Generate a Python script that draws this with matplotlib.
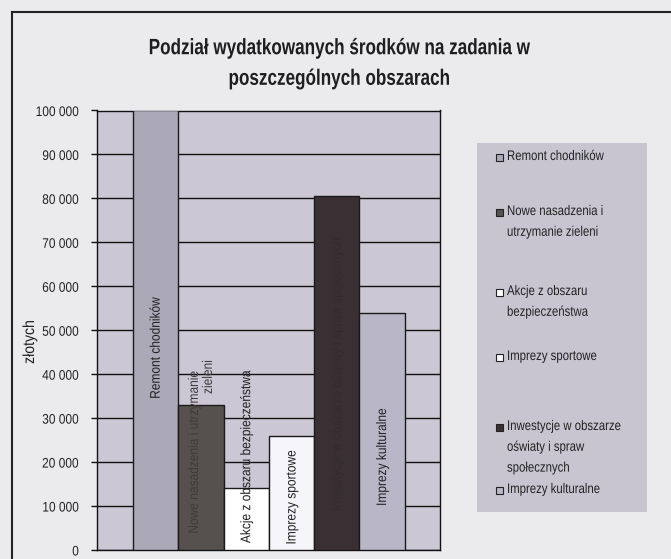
import matplotlib
matplotlib.use("Agg")
import matplotlib.pyplot as plt
from matplotlib.patches import Rectangle
from matplotlib.lines import Line2D
from matplotlib.ticker import FuncFormatter
from matplotlib.patheffects import AbstractPathEffect
from matplotlib.transforms import Affine2D

plt.rcParams['font.family'] = ['Liberation Sans', 'DejaVu Sans']

# ---- data ----
categories = [
    "Remont chodników",
    "Nowe nasadzenia i utrzymanie zieleni",
    "Akcje z obszaru bezpieczeństwa",
    "Imprezy sportowe",
    "Inwestycje w obszarze oświaty i spraw społecznych",
    "Imprezy kulturalne",
]
values = [100000, 33000, 14000, 26000, 80500, 54000]
bar_labels = [
    "Remont chodników",
    "Nowe nasadzenia i utrzymanie\nzieleni",
    "Akcje z obszaru bezpieczeństwa",
    "Imprezy sportowe",
    "Inwestycje w obszarze oświaty i spraw społecznych",
    "Imprezy kulturalne",
]
legend_labels = [
    "Remont chodników",
    "Nowe nasadzenia i\nutrzymanie zieleni",
    "Akcje z obszaru\nbezpieczeństwa",
    "Imprezy sportowe",
    "Inwestycje w obszarze\noświaty i spraw\nspołecznych",
    "Imprezy kulturalne",
]
y_ticks = [0, 10000, 20000, 30000, 40000, 50000, 60000, 70000, 80000, 90000, 100000]
title = "Podział wydatkowanych środków na zadania w\nposzczególnych obszarach"
y_label = "złotych"

# ---- style ----
bar_colors = ["#aba9b8", "#56514f", "#ffffff", "#f6f6fa", "#3a3034", "#b9b7c7"]
label_colors = ["#222222", "#403b3b", "#222222", "#222222", "#342b2f", "#222222"]
label_y = [46000, 22300, 21200, 12000, 40000, 21200]
legend_y_px = [157, 212, 292, 357, 427, 490]


class Condense(AbstractPathEffect):
    """Narrow the glyphs horizontally (in the text's own direction)."""

    def __init__(self, sx, anchor="center"):
        super().__init__()
        self.sx = sx
        self.anchor = anchor

    def draw_path(self, renderer, gc, tpath, affine, rgbFace=None):
        v = tpath.vertices
        if len(v):
            xmin, xmax = float(v[:, 0].min()), float(v[:, 0].max())
        else:
            xmin = xmax = 0.0
        a = {"left": 0.0, "center": (xmin + xmax) / 2, "right": xmax}[self.anchor]
        t = Affine2D().translate(-a, 0).scale(self.sx, 1).translate(a, 0)
        renderer.draw_path(gc, tpath, t + affine, rgbFace)


W, H = 671, 559
fig = plt.figure(figsize=(W / 100, H / 100), dpi=100)
fig.patch.set_facecolor("#ebeaed")

ax = fig.add_axes([97 / W, 1 - 550 / H, (440 - 97) / W, (550 - 110.5) / H])
ax.set_facecolor("#cbc7d4")

x = list(range(len(values)))
ax.bar(x, values, width=1.0, color=bar_colors, edgecolor="#1a1a1a", linewidth=1.0, zorder=3)
ax.set_xlim(-1.295, 6.28)
ax.set_ylim(0, 100000)
ax.set_yticks(y_ticks)
ax.yaxis.set_major_formatter(FuncFormatter(lambda v, p: f"{int(v):,}".replace(",", " ")))
ax.grid(axis="y", color="#111111", linewidth=1.0, zorder=1)
ax.set_xticks([])
ax.tick_params(axis="y", direction="out", length=4, width=1, colors="#111111",
               labelsize=10, labelcolor="#222222", pad=9)
for s in ax.spines.values():
    s.set_color("#111111")
    s.set_linewidth(1.0)
for tk in ax.yaxis.get_major_ticks():
    tk.label1.set_path_effects([Condense(0.86, "right")])

yl = ax.set_ylabel(y_label, fontsize=11.5, color="#222222")
yl.set_path_effects([Condense(0.88, "center")])
ax.yaxis.set_label_coords(-(97 - 37) / (440 - 97), (550 - 342) / (550 - 110.5))

for xi, lab, ly, lc in zip(x, bar_labels, label_y, label_colors):
    t = ax.text(xi, ly, lab, rotation=90, ha="center", va="center", fontsize=10,
                color=lc, multialignment="right", linespacing=1.0, zorder=4)
    t.set_path_effects([Condense(0.86, "center")])

tt = fig.text(339 / W, 1 - 64 / H, title, ha="center", va="center", fontsize=16,
              fontweight="bold", color="#1e1e1e", linespacing=1.6)
tt.set_path_effects([Condense(0.77, "center")])

# legend box
fig.patches.append(Rectangle((477 / W, 1 - 512 / H), (647 - 477) / W, (512 - 143) / H,
                             transform=fig.transFigure, facecolor="#c8c5d1",
                             edgecolor="none", zorder=1))
for lab, col, ypx in zip(legend_labels, bar_colors, legend_y_px):
    fig.patches.append(Rectangle((496 / W, 1 - (ypx + 3.5) / H), 7 / W, 7 / H,
                                 transform=fig.transFigure, facecolor=col,
                                 edgecolor="#222222", linewidth=0.8, zorder=2))
    lt = fig.text(507 / W, 1 - (ypx - 8) / H, lab, ha="left", va="top", fontsize=10,
                  color="#222222", linespacing=1.62, zorder=3)
    lt.set_path_effects([Condense(0.82, "left")])

# chart frame
fig.add_artist(Line2D([12 / W, 12 / W], [0, 1 - 12 / H], color="#222222", linewidth=1.5))
fig.add_artist(Line2D([12 / W, 1], [1 - 12 / H, 1 - 12 / H], color="#222222", linewidth=1.5))

fig.savefig("out.png", dpi=100, facecolor=fig.get_facecolor())
